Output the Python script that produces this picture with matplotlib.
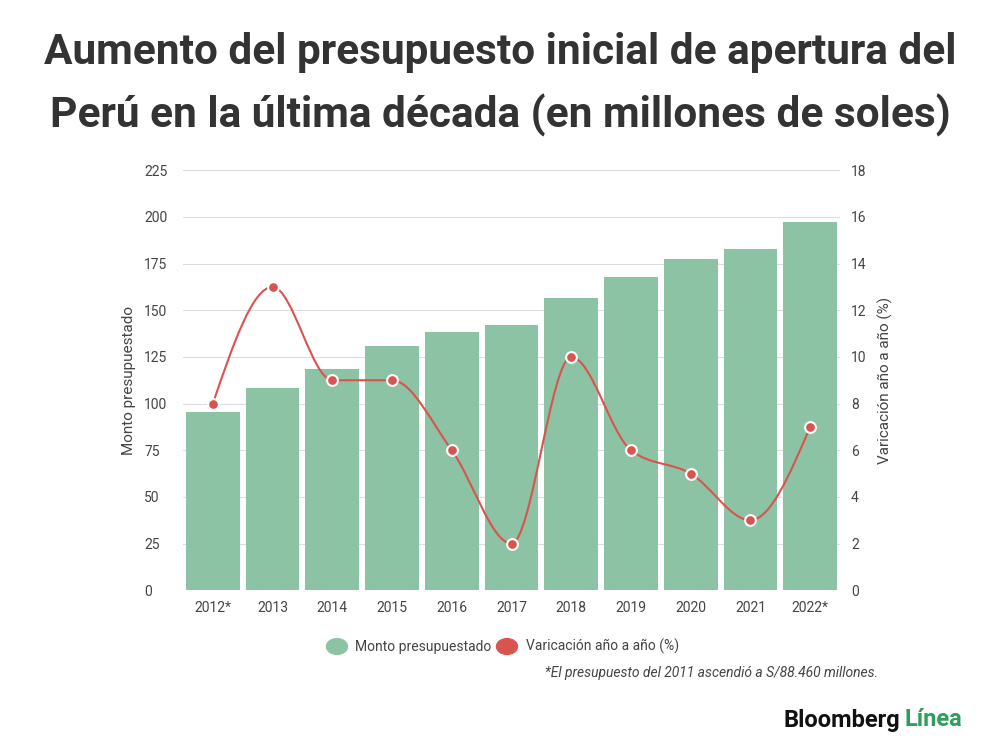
import numpy as np
import matplotlib
matplotlib.use("Agg")
import matplotlib.pyplot as plt
from matplotlib.path import Path
from matplotlib.patches import PathPatch

plt.rcParams['font.family'] = ['Roboto', 'DejaVu Sans']

years = ["2012*", "2013", "2014", "2015", "2016", "2017", "2018", "2019", "2020", "2021", "2022*"]
monto = [95.4, 108.2, 118.4, 130.7, 138.2, 142.0, 156.4, 167.7, 177.3, 182.7, 197.1]
variacion = [8, 13, 9, 9, 6, 2, 10, 6, 5, 3, 7]

bar_color = "#8cc3a5"
line_color = "#d9534f"

def monotone_path(x, y):
    # monotone cubic (like d3 curveMonotoneX) drawn as bezier segments
    x = np.asarray(x, float); y = np.asarray(y, float)
    n = len(x)
    h = np.diff(x); s = np.diff(y) / h
    t = np.zeros(n)
    for i in range(1, n - 1):
        if s[i - 1] * s[i] > 0:
            p = (s[i - 1] * h[i] + s[i] * h[i - 1]) / (h[i - 1] + h[i])
            t[i] = np.sign(s[i - 1]) * min(abs(s[i - 1]), abs(s[i]), 0.5 * abs(p)) * 2
    t[0] = (3 * s[0] - t[1]) / 2
    t[-1] = (3 * s[-1] - t[-2]) / 2
    verts = [(x[0], y[0])]
    codes = [Path.MOVETO]
    for i in range(n - 1):
        d = h[i] / 3
        verts += [(x[i] + d, y[i] + d * t[i]), (x[i + 1] - d, y[i + 1] - d * t[i + 1]), (x[i + 1], y[i + 1])]
        codes += [Path.CURVE4] * 3
    return Path(verts, codes)

fig = plt.figure(figsize=(10, 7.5), dpi=100)
ax = fig.add_axes([0.183, 0.213, 0.657, 0.56])
xs = np.arange(len(years))
ax.bar(xs, monto, width=0.9, color=bar_color, zorder=2)
ax.set_xlim(-0.5, len(years) - 0.5)
ax.set_ylim(0, 225)
ax.set_yticks(np.arange(0, 226, 25))
ax.grid(axis='y', color="#dddddd", lw=0.8, zorder=0)
ax.set_xticks(xs)
ax.set_xticklabels(years)
for sp in ax.spines.values():
    sp.set_visible(False)
ax.tick_params(axis='both', length=0, colors="#444444", labelsize=10)
ax.tick_params(axis='x', pad=8)
for lbl in ax.get_yticklabels():
    lbl.set_horizontalalignment('left')
ax.tick_params(axis='y', pad=28)
ax.set_ylabel("Monto presupuestado", color="#444444", fontsize=11, labelpad=6)

ax2 = ax.twinx()
ax2.set_ylim(0, 18)
ax2.set_yticks(np.arange(0, 19, 2))
for sp in ax2.spines.values():
    sp.set_visible(False)
ax2.tick_params(axis='y', length=0, colors="#444444", labelsize=10, pad=8)
ax2.set_ylabel("Varicación año a año (%)", color="#444444", fontsize=11, labelpad=8)
ax2.add_patch(PathPatch(monotone_path(xs, variacion), fill=False, ec=line_color, lw=1.5, zorder=3))
ax2.scatter(xs, variacion, s=60, color=line_color, edgecolor="white", linewidth=1.5, zorder=4)

fig.text(0.5, 0.957, "Aumento del presupuesto inicial de apertura del\nPerú en la última década (en millones de soles)",
         ha='center', va='top', fontsize=30.5, fontweight='bold', color="#333333", linespacing=1.6)

# legend
fig.patches.append(plt.Circle((0.337, 0.138), 0.0105, transform=fig.transFigure, color=bar_color))
fig.text(0.355, 0.138, "Monto presupuestado", va='center', fontsize=10, color="#444444")
fig.patches.append(plt.Circle((0.507, 0.138), 0.0105, transform=fig.transFigure, color=line_color))
fig.text(0.526, 0.138, "Varicación año a año (%)", va='center', fontsize=10, color="#444444")
fig.text(0.878, 0.103, "*El presupuesto del 2011 ascendió a S/88.460 millones.", ha='right', va='center',
         fontsize=10, style='italic', color="#444444")

fig.text(0.9, 0.04, "Bloomberg", ha='right', va='center', fontsize=17, fontweight='bold', color="#111111")
fig.text(0.905, 0.04, "Línea", ha='left', va='center', fontsize=17, fontweight='bold', color="#2e9e5b")

fig.savefig("out.png", dpi=100, facecolor="white")
